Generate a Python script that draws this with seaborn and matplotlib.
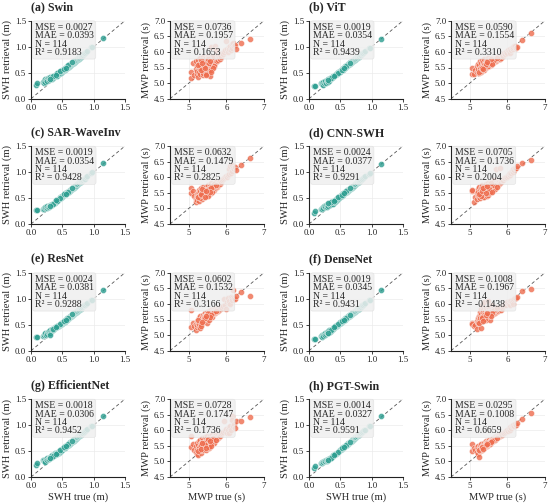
"""
Retrieval scatter grid: SWH and MWP, retrieval vs. in-situ truth,
for eight models (two panels per model, 4 x 4 layout).
"""

import numpy as np
import pandas as pd
import matplotlib
matplotlib.use("Agg")
import matplotlib.pyplot as plt
import seaborn as sns

# ── Data ──────────────────────────────────────────────────────────────────────

MODELS = ["(a) Swin", "(b) ViT", "(c) SAR-WaveInv", "(d) CNN-SWH",
          "(e) ResNet", "(f) DenseNet", "(g) EfficientNet", "(h) PGT-Swin"]

SWH_MSE = ["0.0027", "0.0019", "0.0019", "0.0024", "0.0024", "0.0019", "0.0018", "0.0014"]
SWH_MAE = ["0.0393", "0.0354", "0.0354", "0.0377", "0.0381", "0.0345", "0.0306", "0.0327"]
SWH_R2  = ["0.9183", "0.9439", "0.9428", "0.9291", "0.9288", "0.9431", "0.9452", "0.9591"]
MWP_MSE = ["0.0736", "0.0590", "0.0632", "0.0705", "0.0602", "0.1008", "0.0728", "0.0295"]
MWP_MAE = ["0.1957", "0.1554", "0.1479", "0.1736", "0.1532", "0.1967", "0.1747", "0.1008"]
MWP_R2  = ["0.1653", "0.3310", "0.2825", "0.2004", "0.3166", "-0.1438", "0.1736", "0.6659"]
N_SAMPLES = 114

SWH_TRUE = [
    0.08, 0.09, 0.19, 0.20, 0.21, 0.22, 0.23, 0.24, 0.25, 0.26,
    0.27, 0.28, 0.29, 0.30, 0.31, 0.32, 0.33, 0.34, 0.35, 0.36,
    0.37, 0.38, 0.38, 0.39, 0.40, 0.41, 0.42, 0.43, 0.44, 0.45,
    0.45, 0.46, 0.47, 0.48, 0.48, 0.49, 0.50, 0.50, 0.51, 0.52,
    0.52, 0.53, 0.54, 0.54, 0.55, 0.55, 0.56, 0.57, 0.57, 0.58,
    0.58, 0.59, 0.60, 0.60, 0.61, 0.61, 0.62, 0.62, 0.63, 0.63,
    0.64, 0.64, 0.65, 0.65, 0.66, 0.66, 0.67, 0.67, 0.68, 0.68,
    0.69, 0.69, 0.70, 0.70, 0.71, 0.71, 0.72, 0.72, 0.73, 0.73,
    0.74, 0.74, 0.75, 0.75, 0.76, 0.76, 0.77, 0.77, 0.78, 0.78,
    0.79, 0.79, 0.80, 0.80, 0.81, 0.82, 0.83, 0.84, 0.85, 0.86,
    0.35, 0.42, 0.47, 0.53, 0.59, 0.66, 0.88, 0.90, 0.96, 0.97,
    0.30, 0.40, 0.56, 1.15,
]

SWH_SWIN = [
    0.27, 0.30, 0.32, 0.31, 0.34, 0.38, 0.33, 0.36, 0.38, 0.35,
    0.39, 0.36, 0.40, 0.37, 0.41, 0.39, 0.38, 0.42, 0.40, 0.44,
    0.41, 0.45, 0.43, 0.44, 0.46, 0.44, 0.48, 0.47, 0.49, 0.48,
    0.51, 0.50, 0.52, 0.50, 0.54, 0.52, 0.55, 0.53, 0.54, 0.56,
    0.55, 0.57, 0.56, 0.59, 0.57, 0.60, 0.58, 0.60, 0.62, 0.59,
    0.61, 0.62, 0.61, 0.64, 0.63, 0.62, 0.65, 0.63, 0.64, 0.66,
    0.65, 0.67, 0.66, 0.68, 0.67, 0.69, 0.68, 0.70, 0.69, 0.71,
    0.70, 0.72, 0.71, 0.73, 0.72, 0.74, 0.73, 0.75, 0.74, 0.76,
    0.75, 0.77, 0.76, 0.78, 0.77, 0.79, 0.78, 0.80, 0.79, 0.80,
    0.80, 0.82, 0.81, 0.83, 0.82, 0.84, 0.85, 0.86, 0.87, 0.88,
    0.43, 0.49, 0.53, 0.58, 0.64, 0.70, 0.90, 0.92, 0.99, 1.00,
    0.38, 0.46, 0.60, 1.17,
]

SWH_VIT = [
    0.24, 0.25, 0.30, 0.28, 0.31, 0.27, 0.32, 0.30, 0.33, 0.35,
    0.31, 0.34, 0.36, 0.33, 0.37, 0.35, 0.39, 0.37, 0.40, 0.41,
    0.40, 0.43, 0.41, 0.44, 0.43, 0.46, 0.45, 0.47, 0.48, 0.47,
    0.50, 0.49, 0.51, 0.52, 0.51, 0.53, 0.54, 0.52, 0.55, 0.56,
    0.55, 0.57, 0.58, 0.56, 0.59, 0.58, 0.60, 0.61, 0.60, 0.62,
    0.61, 0.63, 0.62, 0.64, 0.63, 0.65, 0.64, 0.66, 0.65, 0.67,
    0.66, 0.68, 0.67, 0.69, 0.68, 0.70, 0.69, 0.71, 0.70, 0.72,
    0.71, 0.73, 0.72, 0.74, 0.73, 0.75, 0.74, 0.76, 0.75, 0.77,
    0.76, 0.78, 0.77, 0.79, 0.78, 0.79, 0.79, 0.80, 0.80, 0.81,
    0.81, 0.82, 0.82, 0.83, 0.84, 0.84, 0.85, 0.86, 0.87, 0.88,
    0.40, 0.46, 0.50, 0.56, 0.62, 0.69, 0.90, 0.91, 0.97, 0.98,
    0.36, 0.44, 0.59, 1.15,
]

SWH_SAR = [
    0.26, 0.26, 0.28, 0.30, 0.29, 0.31, 0.33, 0.32, 0.30, 0.34,
    0.33, 0.35, 0.32, 0.36, 0.35, 0.37, 0.36, 0.39, 0.38, 0.40,
    0.41, 0.40, 0.43, 0.42, 0.44, 0.45, 0.44, 0.47, 0.49, 0.48,
    0.49, 0.51, 0.50, 0.50, 0.52, 0.53, 0.52, 0.54, 0.53, 0.55,
    0.56, 0.55, 0.57, 0.58, 0.57, 0.59, 0.58, 0.60, 0.61, 0.60,
    0.62, 0.61, 0.63, 0.62, 0.64, 0.63, 0.65, 0.64, 0.66, 0.65,
    0.67, 0.66, 0.68, 0.67, 0.69, 0.68, 0.70, 0.69, 0.71, 0.70,
    0.72, 0.71, 0.73, 0.72, 0.74, 0.73, 0.75, 0.74, 0.76, 0.75,
    0.77, 0.76, 0.78, 0.77, 0.79, 0.78, 0.80, 0.79, 0.81, 0.80,
    0.81, 0.82, 0.82, 0.83, 0.83, 0.84, 0.85, 0.86, 0.86, 0.87,
    0.38, 0.45, 0.50, 0.57, 0.62, 0.69, 0.91, 0.92, 0.99, 1.00,
    0.34, 0.46, 0.58, 1.17,
]

SWH_CNN = [
    0.22, 0.25, 0.29, 0.31, 0.28, 0.33, 0.30, 0.35, 0.32, 0.34,
    0.37, 0.33, 0.36, 0.38, 0.35, 0.39, 0.37, 0.41, 0.38, 0.40,
    0.42, 0.39, 0.44, 0.42, 0.45, 0.43, 0.47, 0.45, 0.48, 0.47,
    0.50, 0.48, 0.51, 0.52, 0.50, 0.53, 0.54, 0.52, 0.55, 0.56,
    0.54, 0.57, 0.58, 0.56, 0.59, 0.57, 0.60, 0.61, 0.59, 0.62,
    0.61, 0.63, 0.62, 0.64, 0.63, 0.65, 0.64, 0.66, 0.65, 0.66,
    0.67, 0.66, 0.68, 0.67, 0.69, 0.68, 0.70, 0.69, 0.71, 0.70,
    0.72, 0.71, 0.73, 0.72, 0.74, 0.73, 0.75, 0.74, 0.76, 0.75,
    0.77, 0.76, 0.78, 0.77, 0.79, 0.78, 0.80, 0.79, 0.81, 0.80,
    0.81, 0.81, 0.82, 0.82, 0.83, 0.84, 0.85, 0.86, 0.87, 0.88,
    0.42, 0.47, 0.51, 0.56, 0.63, 0.70, 0.90, 0.92, 0.97, 0.98,
    0.40, 0.45, 0.60, 1.16,
]

SWH_RESNET = [
    0.26, 0.27, 0.29, 0.31, 0.30, 0.32, 0.34, 0.31, 0.35, 0.33,
    0.36, 0.34, 0.38, 0.35, 0.39, 0.37, 0.40, 0.42, 0.39, 0.43,
    0.42, 0.44, 0.45, 0.43, 0.46, 0.45, 0.47, 0.48, 0.47, 0.50,
    0.49, 0.51, 0.50, 0.52, 0.53, 0.52, 0.54, 0.53, 0.55, 0.56,
    0.55, 0.57, 0.56, 0.58, 0.59, 0.57, 0.60, 0.59, 0.61, 0.60,
    0.62, 0.61, 0.63, 0.62, 0.64, 0.63, 0.65, 0.64, 0.66, 0.65,
    0.66, 0.67, 0.67, 0.68, 0.68, 0.69, 0.69, 0.70, 0.70, 0.71,
    0.71, 0.72, 0.72, 0.73, 0.73, 0.74, 0.74, 0.75, 0.75, 0.76,
    0.76, 0.77, 0.77, 0.78, 0.78, 0.79, 0.79, 0.80, 0.80, 0.81,
    0.81, 0.82, 0.82, 0.83, 0.84, 0.85, 0.86, 0.87, 0.88, 0.88,
    0.41, 0.48, 0.52, 0.57, 0.63, 0.70, 0.90, 0.91, 0.97, 0.97,
    0.30, 0.45, 0.59, 1.16,
]

SWH_DENSE = [
    0.22, 0.23, 0.28, 0.30, 0.27, 0.31, 0.29, 0.32, 0.34, 0.31,
    0.33, 0.35, 0.36, 0.34, 0.37, 0.39, 0.36, 0.40, 0.38, 0.41,
    0.40, 0.42, 0.43, 0.41, 0.44, 0.46, 0.45, 0.47, 0.48, 0.49,
    0.50, 0.49, 0.51, 0.53, 0.52, 0.54, 0.53, 0.55, 0.54, 0.56,
    0.55, 0.57, 0.58, 0.57, 0.59, 0.58, 0.60, 0.61, 0.60, 0.62,
    0.61, 0.63, 0.62, 0.64, 0.64, 0.65, 0.64, 0.66, 0.65, 0.67,
    0.66, 0.68, 0.67, 0.69, 0.68, 0.69, 0.69, 0.70, 0.70, 0.71,
    0.71, 0.72, 0.72, 0.73, 0.73, 0.74, 0.74, 0.75, 0.75, 0.76,
    0.76, 0.77, 0.77, 0.78, 0.78, 0.79, 0.79, 0.80, 0.80, 0.80,
    0.81, 0.81, 0.82, 0.82, 0.83, 0.84, 0.85, 0.86, 0.87, 0.88,
    0.39, 0.47, 0.51, 0.57, 0.62, 0.68, 0.90, 0.91, 0.97, 0.98,
    0.35, 0.45, 0.60, 1.16,
]

SWH_EFF = [
    0.24, 0.27, 0.32, 0.30, 0.33, 0.31, 0.29, 0.34, 0.36, 0.33,
    0.35, 0.37, 0.34, 0.38, 0.36, 0.40, 0.39, 0.42, 0.40, 0.44,
    0.42, 0.46, 0.43, 0.45, 0.44, 0.46, 0.45, 0.48, 0.47, 0.49,
    0.50, 0.49, 0.51, 0.52, 0.50, 0.53, 0.54, 0.52, 0.55, 0.56,
    0.55, 0.57, 0.58, 0.56, 0.59, 0.58, 0.60, 0.61, 0.60, 0.62,
    0.61, 0.63, 0.62, 0.64, 0.63, 0.65, 0.64, 0.66, 0.65, 0.67,
    0.66, 0.68, 0.67, 0.69, 0.68, 0.70, 0.69, 0.71, 0.70, 0.72,
    0.71, 0.73, 0.72, 0.74, 0.73, 0.74, 0.74, 0.75, 0.75, 0.76,
    0.76, 0.77, 0.77, 0.78, 0.78, 0.79, 0.79, 0.80, 0.80, 0.81,
    0.81, 0.82, 0.82, 0.83, 0.84, 0.84, 0.85, 0.86, 0.87, 0.88,
    0.41, 0.47, 0.52, 0.57, 0.63, 0.69, 0.90, 0.92, 0.99, 0.99,
    0.37, 0.45, 0.60, 1.17,
]

SWH_PGT = [
    0.17, 0.22, 0.27, 0.28, 0.26, 0.29, 0.28, 0.30, 0.31, 0.30,
    0.32, 0.31, 0.33, 0.34, 0.33, 0.35, 0.36, 0.37, 0.37, 0.39,
    0.39, 0.41, 0.40, 0.42, 0.42, 0.44, 0.44, 0.45, 0.46, 0.47,
    0.47, 0.48, 0.49, 0.50, 0.50, 0.51, 0.52, 0.52, 0.53, 0.54,
    0.54, 0.55, 0.56, 0.56, 0.57, 0.57, 0.58, 0.59, 0.59, 0.60,
    0.60, 0.61, 0.62, 0.62, 0.63, 0.63, 0.64, 0.64, 0.65, 0.65,
    0.66, 0.66, 0.67, 0.67, 0.68, 0.68, 0.69, 0.69, 0.70, 0.70,
    0.71, 0.71, 0.72, 0.72, 0.73, 0.73, 0.74, 0.74, 0.75, 0.75,
    0.76, 0.76, 0.77, 0.77, 0.78, 0.78, 0.79, 0.79, 0.80, 0.80,
    0.81, 0.81, 0.82, 0.82, 0.83, 0.84, 0.85, 0.86, 0.87, 0.88,
    0.37, 0.44, 0.49, 0.55, 0.61, 0.68, 0.90, 0.91, 0.98, 0.98,
    0.32, 0.42, 0.58, 1.17,
]

MWP_TRUE = [
    5.05, 5.07, 5.12, 5.15, 5.18, 5.20, 5.21, 5.22, 5.23, 5.24,
    5.25, 5.26, 5.27, 5.28, 5.29, 5.30, 5.31, 5.32, 5.33, 5.34,
    5.35, 5.36, 5.37, 5.38, 5.39, 5.40, 5.41, 5.42, 5.43, 5.44,
    5.45, 5.46, 5.47, 5.48, 5.49, 5.50, 5.51, 5.52, 5.53, 5.54,
    5.55, 5.56, 5.57, 5.58, 5.59, 5.60, 5.61, 5.62, 5.63, 5.64,
    5.65, 5.66, 5.67, 5.68, 5.69, 5.70, 5.71, 5.72, 5.73, 5.74,
    5.75, 5.76, 5.77, 5.78, 5.79, 5.80, 5.82, 5.84, 5.86, 5.88,
    5.90, 5.93, 5.96, 6.00, 6.02, 6.04, 6.06, 6.08, 6.10, 6.12,
    6.14, 6.16, 6.18, 6.20, 6.22, 6.25, 6.40, 6.63, 5.28, 5.35,
    5.42, 5.48, 5.55, 5.62, 5.68, 5.30, 5.38, 5.45, 5.52, 5.58,
    5.25, 5.33, 5.47, 5.53, 5.65, 5.72, 5.40, 5.50, 5.60, 5.56,
    5.32, 5.44, 5.36, 5.46,
]

MWP_SWIN = [
    5.15, 5.35, 5.65, 5.25, 5.45, 5.70, 5.30, 5.55, 5.40, 5.75,
    5.20, 5.50, 5.62, 5.35, 5.80, 5.45, 5.28, 5.68, 5.52, 5.38,
    5.72, 5.48, 5.25, 5.60, 5.85, 5.42, 5.66, 5.33, 5.55, 5.78,
    5.50, 5.62, 5.38, 5.75, 5.45, 5.88, 5.58, 5.30, 5.70, 5.52,
    5.65, 5.22, 5.78, 5.48, 5.60, 6.15, 5.72, 5.55, 5.82, 5.68,
    5.75, 5.60, 5.85, 5.70, 6.20, 5.78, 5.65, 5.90, 5.72, 5.80,
    5.82, 5.70, 5.88, 5.75, 5.80, 5.85, 5.78, 5.90, 5.84, 5.95,
    5.92, 6.00, 6.05, 6.35, 6.10, 6.00, 6.15, 6.08, 6.20, 6.05,
    6.25, 6.12, 6.28, 6.18, 6.22, 6.10, 6.30, 6.42, 5.60, 5.45,
    5.35, 5.68, 5.40, 5.85, 5.55, 5.58, 5.32, 5.62, 5.80, 5.42,
    5.58, 5.75, 5.28, 5.65, 5.50, 6.05, 5.52, 5.78, 5.35, 5.70,
    5.42, 5.48, 5.65, 5.25,
]

MWP_VIT = [
    5.28, 5.50, 5.30, 5.42, 5.35, 5.55, 5.38, 5.62, 5.45, 5.33,
    5.58, 5.40, 5.70, 5.48, 5.36, 5.65, 5.52, 5.44, 5.75, 5.60,
    5.50, 5.68, 5.42, 5.62, 5.78, 5.55, 5.48, 5.70, 5.58, 5.65,
    5.72, 5.52, 5.66, 5.60, 5.80, 5.56, 5.68, 5.74, 5.62, 5.70,
    5.64, 5.76, 5.58, 5.72, 5.68, 5.80, 5.66, 5.74, 5.78, 5.70,
    5.75, 5.72, 5.82, 5.76, 5.70, 5.80, 5.78, 5.84, 5.74, 5.80,
    5.78, 5.82, 5.76, 5.80, 5.84, 5.78, 5.86, 5.82, 5.90, 5.88,
    5.95, 5.92, 6.00, 5.95, 6.05, 6.02, 5.98, 6.10, 6.05, 6.12,
    6.08, 6.15, 6.18, 6.20, 6.12, 6.15, 6.38, 6.60, 5.45, 5.52,
    5.62, 5.55, 5.68, 5.72, 5.76, 5.40, 5.58, 5.64, 5.70, 5.66,
    5.35, 5.46, 5.72, 5.60, 5.74, 5.82, 5.55, 5.66, 5.62, 5.76,
    5.50, 5.60, 5.44, 5.68,
]

MWP_SAR = [
    5.65, 5.50, 5.55, 5.40, 5.30, 5.22, 5.45, 5.35, 5.28, 5.50,
    5.38, 5.60, 5.25, 5.48, 5.55, 5.32, 5.42, 5.65, 5.36, 5.52,
    5.45, 5.30, 5.58, 5.40, 5.68, 5.50, 5.35, 5.62, 5.44, 5.55,
    5.48, 5.70, 5.40, 5.58, 5.52, 5.65, 5.45, 5.75, 5.60, 5.50,
    5.62, 5.55, 5.72, 5.48, 5.66, 5.80, 5.58, 5.70, 5.64, 5.76,
    5.68, 5.74, 5.60, 5.78, 5.72, 5.65, 5.80, 5.75, 5.85, 5.70,
    5.78, 5.72, 5.82, 5.76, 5.80, 5.84, 5.78, 5.88, 5.86, 5.90,
    5.95, 5.98, 6.00, 6.05, 6.02, 6.08, 6.25, 6.10, 6.35, 6.15,
    6.38, 6.20, 6.30, 6.25, 6.32, 6.22, 6.40, 6.60, 5.40, 5.48,
    5.56, 5.42, 5.62, 5.52, 5.78, 5.32, 5.50, 5.60, 5.46, 5.68,
    5.36, 5.44, 5.54, 5.62, 5.70, 5.74, 5.58, 5.40, 5.66, 5.52,
    5.46, 5.38, 5.62, 5.56,
]

MWP_CNN = [
    5.55, 5.60, 5.20, 5.35, 5.48, 5.30, 5.62, 5.42, 5.52, 5.38,
    5.70, 5.45, 5.58, 5.32, 5.66, 5.50, 5.40, 5.75, 5.55, 5.35,
    5.62, 5.48, 5.72, 5.38, 5.58, 5.68, 5.45, 5.78, 5.52, 5.64,
    5.40, 5.70, 5.55, 5.82, 5.60, 5.48, 5.74, 5.65, 5.58, 5.80,
    5.68, 5.52, 5.76, 5.62, 5.85, 5.70, 5.58, 5.78, 5.66, 5.90,
    5.72, 5.80, 5.64, 5.76, 5.70, 6.25, 5.82, 5.74, 5.78, 5.86,
    5.80, 5.76, 5.84, 5.78, 6.30, 5.82, 5.88, 5.85, 5.92, 5.90,
    5.96, 5.98, 6.02, 6.00, 6.05, 6.10, 6.08, 6.15, 6.12, 6.20,
    6.18, 6.25, 6.22, 6.30, 6.28, 6.35, 6.45, 6.55, 5.50, 5.62,
    5.58, 5.44, 5.72, 5.66, 5.62, 5.40, 5.56, 5.68, 5.50, 5.74,
    5.46, 5.64, 5.60, 5.54, 5.76, 5.68, 5.70, 5.62, 5.52, 5.80,
    5.56, 5.48, 5.66, 5.72,
]

MWP_RESNET = [
    5.27, 5.80, 5.40, 5.30, 5.15, 5.35, 5.25, 5.45, 5.32, 5.50,
    5.38, 5.28, 5.55, 5.42, 5.48, 5.35, 5.60, 5.44, 5.52, 5.40,
    5.58, 5.46, 5.65, 5.50, 5.42, 5.62, 5.54, 5.70, 5.48, 5.60,
    5.52, 5.66, 5.58, 5.75, 5.62, 5.55, 5.70, 5.64, 5.78, 5.60,
    5.68, 5.62, 5.74, 5.58, 5.80, 5.70, 5.66, 5.76, 5.72, 5.82,
    5.74, 5.70, 5.80, 5.76, 5.72, 5.85, 5.78, 5.82, 5.75, 5.80,
    5.78, 5.84, 5.80, 5.76, 5.86, 5.82, 5.88, 5.84, 5.90, 5.86,
    5.92, 6.15, 5.98, 5.85, 6.05, 6.20, 6.02, 6.10, 6.00, 6.22,
    6.18, 6.12, 6.45, 6.20, 6.15, 6.25, 6.38, 6.25, 5.34, 5.46,
    5.52, 5.40, 5.68, 5.58, 5.74, 5.22, 5.44, 5.60, 5.56, 5.64,
    5.48, 5.36, 5.62, 5.50, 5.70, 5.76, 5.54, 5.72, 5.66, 5.58,
    5.30, 5.56, 5.42, 5.62,
]

MWP_DENSE = [
    5.40, 5.35, 5.30, 5.32, 5.20, 5.45, 5.38, 5.55, 5.42, 5.60,
    5.50, 5.75, 5.45, 5.62, 5.85, 5.52, 5.68, 5.95, 5.58, 5.48,
    5.72, 5.80, 5.55, 5.65, 6.05, 5.62, 5.78, 5.50, 5.70, 5.88,
    5.60, 5.82, 5.68, 6.10, 5.74, 5.58, 5.85, 5.66, 5.78, 5.92,
    5.70, 5.76, 5.62, 5.85, 5.72, 5.95, 5.68, 5.80, 5.74, 5.88,
    5.78, 5.70, 5.82, 5.76, 5.90, 5.80, 5.74, 5.86, 5.78, 5.84,
    5.82, 5.78, 5.86, 5.80, 5.84, 5.88, 5.82, 5.90, 5.86, 5.92,
    5.95, 6.00, 5.98, 6.05, 6.02, 6.00, 6.08, 5.98, 6.10, 6.05,
    6.12, 6.00, 6.15, 6.18, 6.20, 6.22, 6.40, 6.48, 5.55, 5.62,
    5.65, 5.72, 5.48, 5.78, 5.82, 5.24, 5.66, 5.70, 5.60, 5.76,
    5.40, 5.58, 5.74, 5.64, 5.80, 5.86, 5.52, 5.68, 5.72, 5.62,
    5.56, 5.64, 5.46, 5.70,
]

MWP_EFF = [
    5.45, 5.82, 5.55, 5.38, 5.30, 5.48, 5.25, 5.60, 5.35, 5.52,
    5.22, 5.42, 5.65, 5.32, 5.50, 5.70, 5.40, 5.58, 5.28, 5.62,
    5.46, 5.75, 5.36, 5.55, 5.68, 5.42, 5.60, 5.78, 5.50, 5.64,
    5.38, 5.72, 5.56, 5.48, 5.82, 5.62, 5.45, 5.70, 5.58, 5.76,
    5.66, 5.52, 5.80, 5.60, 5.72, 5.55, 5.85, 5.68, 5.62, 5.78,
    5.70, 5.64, 5.82, 5.74, 5.68, 5.80, 5.76, 5.72, 5.84, 5.78,
    5.74, 5.80, 5.76, 5.84, 5.78, 5.82, 5.86, 5.80, 5.88, 5.92,
    5.95, 6.28, 5.98, 6.05, 5.92, 6.02, 6.10, 5.90, 6.15, 6.00,
    6.45, 6.32, 6.12, 6.20, 6.08, 6.30, 6.30, 6.42, 5.42, 5.58,
    5.52, 5.66, 5.44, 5.74, 5.60, 5.36, 5.48, 5.64, 5.70, 5.56,
    5.32, 5.54, 5.62, 5.46, 5.76, 5.68, 5.58, 5.72, 5.50, 5.66,
    5.40, 5.52, 5.60, 5.44,
]

MWP_PGT = [
    5.55, 5.32, 5.42, 5.38, 5.45, 5.30, 5.48, 5.25, 5.40, 5.35,
    5.15, 5.45, 5.32, 5.50, 5.38, 5.42, 5.55, 5.36, 5.48, 5.44,
    5.40, 5.52, 5.46, 5.60, 5.42, 5.56, 5.48, 5.65, 5.50, 5.58,
    5.54, 5.62, 5.50, 5.58, 5.66, 5.55, 5.62, 5.70, 5.58, 5.64,
    5.60, 5.68, 5.62, 5.72, 5.64, 5.70, 5.66, 5.74, 5.68, 5.72,
    5.70, 5.76, 5.72, 5.78, 5.74, 5.80, 5.76, 5.78, 5.82, 5.80,
    5.78, 5.82, 5.80, 5.84, 5.82, 5.86, 5.84, 5.88, 5.86, 5.90,
    5.92, 5.95, 5.98, 6.00, 5.96, 6.05, 6.02, 6.10, 6.08, 6.15,
    6.12, 6.18, 6.15, 6.20, 6.18, 6.22, 6.35, 6.55, 5.40, 5.46,
    5.52, 5.56, 5.62, 5.66, 5.70, 5.42, 5.48, 5.54, 5.60, 5.64,
    5.35, 5.44, 5.58, 5.56, 5.68, 5.74, 5.50, 5.60, 5.66, 5.62,
    5.46, 5.52, 5.40, 5.56,
]

SWH_RETR = [SWH_SWIN, SWH_VIT, SWH_SAR, SWH_CNN,
            SWH_RESNET, SWH_DENSE, SWH_EFF, SWH_PGT]
MWP_RETR = [MWP_SWIN, MWP_VIT, MWP_SAR, MWP_CNN,
            MWP_RESNET, MWP_DENSE, MWP_EFF, MWP_PGT]

SWH_TICKS = [0.0, 0.5, 1.0, 1.5]
MWP_XTICKS = [5, 6, 7]
MWP_YTICKS = [4.5, 5.0, 5.5, 6.0, 6.5, 7.0]

# ── Style ─────────────────────────────────────────────────────────────────────

SWH_COLOR = "#2a9d8f"
MWP_COLOR = "#ee6c4d"
BOX_COLOR = "#efefef"
GRID_COLOR = "#ebebeb"

FIG_W, FIG_H, DPI = 5.5, 5.03, 100
COL_LEFT_PX = [31, 170, 309, 451]
ROW_TOP_PX = [20.7, 146.0, 272.7, 399.0]
AX_W_PX, AX_H_PX = 94, 78

sns.set_style("ticks")
plt.rcParams["font.family"] = ["Liberation Serif", "DejaVu Serif"]


def axes_rect(col, row):
    left = COL_LEFT_PX[col] / (FIG_W * DPI)
    bottom = 1 - (ROW_TOP_PX[row] + AX_H_PX) / (FIG_H * DPI)
    return [left, bottom, AX_W_PX / (FIG_W * DPI), AX_H_PX / (FIG_H * DPI)]


def draw_panel(ax, x, y, color, lims, xticks, yticks, stats_txt, ylabel, xlabel):
    df = pd.DataFrame({"x": x, "y": y})
    ax.grid(True, color=GRID_COLOR, linewidth=0.5, zorder=0)
    ax.set_axisbelow(True)
    ax.plot(lims, lims, ls=(0, (4, 3)), color="#555555", lw=0.6, zorder=1)
    sns.scatterplot(data=df, x="x", y="y", ax=ax, color=color, s=19,
                    alpha=0.8, edgecolor="white", linewidth=0.35, zorder=2)
    ax.set_xlim(lims)
    ax.set_ylim(lims)
    ax.set_xticks(xticks)
    ax.set_yticks(yticks)
    ax.set_xticklabels([f"{t:g}" if isinstance(t, int) else f"{t:.1f}" for t in xticks])
    ax.set_yticklabels([f"{t:.1f}" for t in yticks])
    ax.tick_params(labelsize=6.4, length=2, width=0.6, pad=1.5, colors="#222222")
    ax.set_ylabel(ylabel, fontsize=7.6, labelpad=2)
    ax.set_xlabel(xlabel, fontsize=7.6, labelpad=2)
    for sp in ["left", "bottom"]:
        ax.spines[sp].set_linewidth(0.8)
        ax.spines[sp].set_color("#222222")
    sns.despine(ax=ax)
    ax.text(0.04, 0.97, stats_txt, transform=ax.transAxes, ha="left", va="top",
            fontsize=7.0, linespacing=0.9, zorder=5,
            bbox=dict(boxstyle="round,pad=0.22", facecolor=BOX_COLOR,
                      edgecolor="#dddddd", linewidth=0.4, alpha=0.85))


fig = plt.figure(figsize=(FIG_W, FIG_H), dpi=DPI)

for i, name in enumerate(MODELS):
    row, pair = divmod(i, 2)
    bottom_row = row == 3

    ax_s = fig.add_axes(axes_rect(pair * 2, row))
    swh_txt = (f"MSE = {SWH_MSE[i]}\nMAE = {SWH_MAE[i]}\n"
               f"N = {N_SAMPLES}\nR² = {SWH_R2[i]}")
    draw_panel(ax_s, SWH_TRUE, SWH_RETR[i], SWH_COLOR, (0.0, 1.5),
               SWH_TICKS, SWH_TICKS, swh_txt, "SWH retrieval (m)",
               "SWH true (m)" if bottom_row else "")
    ax_s.text(0.0, 1 + 13.2 / AX_H_PX, name, transform=ax_s.transAxes,
              ha="left", va="center", fontsize=8.6, fontweight="bold")

    ax_m = fig.add_axes(axes_rect(pair * 2 + 1, row))
    mwp_txt = (f"MSE = {MWP_MSE[i]}\nMAE = {MWP_MAE[i]}\n"
               f"N = {N_SAMPLES}\nR² = {MWP_R2[i]}")
    draw_panel(ax_m, MWP_TRUE, MWP_RETR[i], MWP_COLOR, (4.5, 7.0),
               MWP_XTICKS, MWP_YTICKS, mwp_txt, "MWP retrieval (s)",
               "MWP true (s)" if bottom_row else "")

fig.savefig("out.png", dpi=DPI)
